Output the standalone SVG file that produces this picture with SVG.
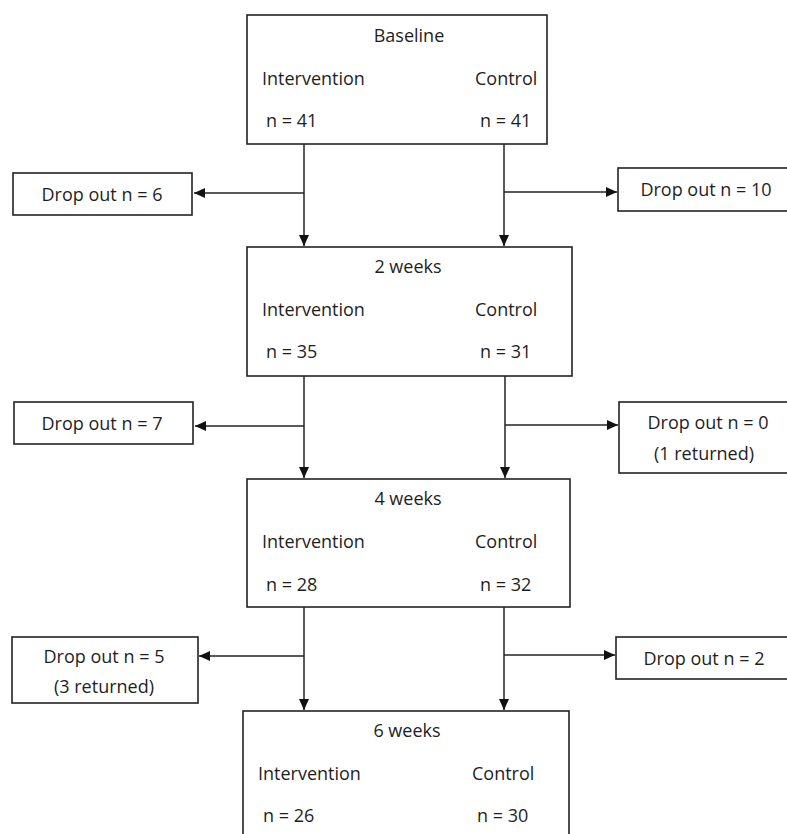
<svg xmlns="http://www.w3.org/2000/svg" width="787" height="834" viewBox="0 0 787 834">
<defs>
<style>
.box{fill:#fff;stroke:#222;stroke-width:1.6}
.t{font-family:"Open Sans","Noto Sans",sans-serif;font-size:18px;fill:#1e1e1e}
.m{text-anchor:middle}
.c{fill:none;stroke:#222;stroke-width:1.5}
</style>
<marker id="ah" viewBox="0 0 11 11" refX="11" refY="5.5" markerWidth="11" markerHeight="11" markerUnits="userSpaceOnUse" orient="auto">
<path d="M0,0.5 L11,5.5 L0,10.5 Z" fill="#111"/>
</marker>
</defs>
<rect width="787" height="834" fill="#fff"/>
<g id="connectors">
<path class="c" d="M304,144 V246" marker-end="url(#ah)"/>
<path class="c" d="M504,144 V246" marker-end="url(#ah)"/>
<path class="c" d="M304,193 H194" marker-end="url(#ah)"/>
<path class="c" d="M504,192 H617" marker-end="url(#ah)"/>
<path class="c" d="M304,376 V478" marker-end="url(#ah)"/>
<path class="c" d="M505,376 V478" marker-end="url(#ah)"/>
<path class="c" d="M304,426 H195" marker-end="url(#ah)"/>
<path class="c" d="M505,425 H618" marker-end="url(#ah)"/>
<path class="c" d="M304,607 V710" marker-end="url(#ah)"/>
<path class="c" d="M504,607 V710" marker-end="url(#ah)"/>
<path class="c" d="M304,656 H199" marker-end="url(#ah)"/>
<path class="c" d="M504,655 H615" marker-end="url(#ah)"/>
</g>
<g id="baseline">
<rect class="box" x="247" y="15" width="300" height="129"/>
<text class="t m" x="409" y="42">Baseline</text>
<text class="t" x="262" y="85">Intervention</text>
<text class="t" x="475" y="85">Control</text>
<text class="t" x="266" y="127">n = 41</text>
<text class="t" x="480" y="127">n = 41</text>
</g>
<g id="week2">
<rect class="box" x="247" y="247" width="325" height="129"/>
<text class="t m" x="408" y="273">2 weeks</text>
<text class="t" x="262" y="316">Intervention</text>
<text class="t" x="475" y="316">Control</text>
<text class="t" x="266" y="358">n = 35</text>
<text class="t" x="480" y="358">n = 31</text>
</g>
<g id="week4">
<rect class="box" x="247" y="479" width="323" height="128"/>
<text class="t m" x="408" y="505">4 weeks</text>
<text class="t" x="262" y="548">Intervention</text>
<text class="t" x="475" y="548">Control</text>
<text class="t" x="266" y="591">n = 28</text>
<text class="t" x="480" y="591">n = 32</text>
</g>
<g id="week6">
<rect class="box" x="243" y="711" width="326" height="135"/>
<text class="t m" x="407" y="737">6 weeks</text>
<text class="t" x="258" y="780">Intervention</text>
<text class="t" x="472" y="780">Control</text>
<text class="t" x="263" y="822">n = 26</text>
<text class="t" x="477" y="822">n = 30</text>
</g>
<g id="drop-left-1">
<rect class="box" x="13" y="173" width="179" height="42"/>
<text class="t m" x="102" y="201">Drop out n = 6</text>
</g>
<g id="drop-right-1">
<rect class="box" x="618" y="168" width="175" height="43"/>
<text class="t m" x="706" y="196">Drop out n = 10</text>
</g>
<g id="drop-left-2">
<rect class="box" x="14" y="402" width="179" height="42"/>
<text class="t m" x="102" y="430">Drop out n = 7</text>
</g>
<g id="drop-right-2">
<rect class="box" x="619" y="402" width="175" height="71"/>
<text class="t m" x="708" y="429">Drop out n = 0</text>
<text class="t m" x="704" y="460">(1 returned)</text>
</g>
<g id="drop-left-3">
<rect class="box" x="12" y="637" width="186" height="66"/>
<text class="t m" x="104" y="663">Drop out n = 5</text>
<text class="t m" x="104" y="693">(3 returned)</text>
</g>
<g id="drop-right-3">
<rect class="box" x="616" y="637" width="177" height="42"/>
<text class="t m" x="704" y="665">Drop out n = 2</text>
</g>
</svg>
